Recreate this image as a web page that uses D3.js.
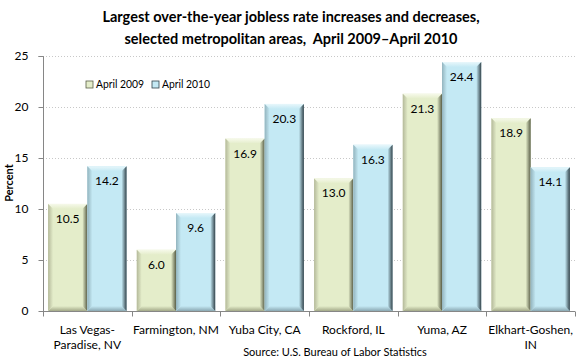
<!DOCTYPE html>
<html><head><meta charset="utf-8">
<script src="https://cdn.jsdelivr.net/npm/d3@7"></script>
<style>body{margin:0;background:#fff}svg{display:block}text{font-family:Lato,"Open Sans",sans-serif}</style>
</head><body>
<svg id="c" width="580" height="360"></svg>
<script>
const categories = [["Las Vegas-","Paradise, NV"],["Farmington, NM"],["Yuba City, CA"],["Rockford, IL"],["Yuma, AZ"],["Elkhart-Goshen,","IN"]];
const series = ["April 2009","April 2010"];
const apr2009 = [10.5, 6.0, 16.9, 13.0, 21.3, 18.9];
const apr2010 = [14.2, 9.6, 20.3, 16.3, 24.4, 14.1];
const yTicks = [0,5,10,15,20,25];

const svg = d3.select("#c");
const m={l:43,r:5,t:56,b:49};
const x = d3.scaleBand().domain(d3.range(categories.length)).range([m.l,575]).paddingInner(0).paddingOuter(0);
const x1 = d3.scaleBand().domain(series).range([0,x.bandwidth()]).paddingOuter(0.13).paddingInner(0);
const y = d3.scaleLinear().domain([0,25]).range([311,56]);

const pal = {
 "April 2009": {fill:"#e4edca", top:"#f6f9ea", left:"#b4b99a", right:"#5a5f48", bottom:"#a3a988"},
 "April 2010": {fill:"#c4e9f4", top:"#e8f7fb", left:"#93b4be", right:"#33434a", bottom:"#8aa8b2"}
};
const defs = svg.append("defs");
function grad(id,x1_,y1_,x2_,y2_,c1,c2){
  const g=defs.append("linearGradient").attr("id",id).attr("x1",x1_).attr("y1",y1_).attr("x2",x2_).attr("y2",y2_);
  g.append("stop").attr("offset","0").attr("stop-color",c1);
  g.append("stop").attr("offset","1").attr("stop-color",c2);
}
series.forEach((s,i)=>{
  const p=pal[s];
  grad("gl"+i,0,0,1,0,p.left,p.fill);
  grad("gr"+i,0,0,1,0,p.fill,p.right);
  grad("gt"+i,0,0,0,1,p.top,p.fill);
  grad("gb"+i,0,0,0,1,p.fill,p.bottom);
});

// gridlines
svg.append("g").selectAll("line").data(yTicks.filter(d=>d>0)).join("line")
  .attr("x1",m.l).attr("x2",575).attr("y1",d=>y(d)+0.5).attr("y2",d=>y(d)+0.5)
  .attr("stroke","#c8c8c8").attr("stroke-width",1).attr("stroke-dasharray","1,2");

// bars
const data=[];
categories.forEach((c,i)=>{ data.push({i,s:series[0],si:0,v:apr2009[i]}); data.push({i,s:series[1],si:1,v:apr2010[i]}); });
const bv=5;
const bars = svg.append("g").selectAll("g").data(data).join("g");
bars.each(function(d){
  const g=d3.select(this);
  const x0=x(d.i)+x1(d.s), w=x1.bandwidth(), y0=y(d.v), y1b=y(0), p=pal[d.s];
  const xR=x0+w;
  g.append("rect").attr("x",x0).attr("y",y0).attr("width",w).attr("height",y1b-y0).attr("fill",p.fill);
  const pts=a=>a.map(q=>q.join(",")).join(" ");
  g.append("polygon").attr("points",pts([[x0,y0],[xR,y0],[xR-bv,y0+bv],[x0+bv,y0+bv]])).attr("fill",`url(#gt${d.si})`);
  g.append("polygon").attr("points",pts([[x0,y1b],[xR,y1b],[xR-bv,y1b-bv],[x0+bv,y1b-bv]])).attr("fill",`url(#gb${d.si})`);
  g.append("polygon").attr("points",pts([[x0,y0],[x0+bv,y0+bv],[x0+bv,y1b-bv],[x0,y1b]])).attr("fill",`url(#gl${d.si})`);
  g.append("polygon").attr("points",pts([[xR,y0],[xR-bv,y0+bv],[xR-bv,y1b-bv],[xR,y1b]])).attr("fill",`url(#gr${d.si})`);
  g.append("text").attr("x",x0+w/2).attr("y",y0+19).attr("text-anchor","middle")
    .attr("font-size",12).attr("fill","#000").text(d.v.toFixed(1));
});

// y axis
const ya = svg.append("g").attr("transform",`translate(${m.l+0.5},0)`)
  .call(d3.axisLeft(y).tickValues(yTicks).tickSize(5).tickPadding(10).tickFormat(d3.format("d")));
ya.select(".domain").attr("stroke","#868686").attr("d",`M-5,${y(25)+0.5}H0V${y(0)+0.5}`);
ya.selectAll(".tick line").attr("stroke","#868686");
ya.selectAll(".tick text").attr("font-size",12).attr("fill","#000").style("font-family","Lato");

// x axis
const xa = svg.append("g").attr("transform",`translate(0,${y(0)+0.5})`);
xa.append("line").attr("x1",m.l).attr("x2",575).attr("stroke","#868686");
xa.selectAll("line.t").data(d3.range(categories.length+1)).join("line").attr("class","t")
  .attr("x1",d=>Math.round(m.l+d*x.bandwidth())+0.5).attr("x2",d=>Math.round(m.l+d*x.bandwidth())+0.5)
  .attr("y1",0).attr("y2",5).attr("stroke","#868686");
xa.selectAll("text").data(categories).join("text")
  .attr("text-anchor","middle").attr("font-size",12).attr("fill","#000")
  .each(function(c,i){
    const t=d3.select(this);
    c.forEach((ln,k)=>t.append("tspan").attr("x",x(i)+x.bandwidth()/2).attr("y",22+k*15).text(ln));
  });

// y label
svg.append("text").attr("transform","translate(13,183) rotate(-90)").attr("text-anchor","middle")
  .attr("font-size",11).attr("font-weight","bold").text("Percent");

// title
const title=["Largest over-the-year jobless rate increases and decreases,","selected metropolitan areas,  April 2009\u2013April 2010"];
svg.append("text").attr("text-anchor","middle").attr("font-size",14.5).attr("font-weight","bold")
  .selectAll("tspan").data(title).join("tspan").attr("x",291).attr("y",(d,i)=>22+i*22).style("white-space","pre").text(d=>d);

// legend
const lg=svg.append("g");
const lx=[86,152];
series.forEach((s,i)=>{
  const p=pal[s];
  lg.append("rect").attr("x",lx[i]).attr("y",81).attr("width",7).attr("height",7).attr("fill",p.fill).attr("stroke",p.right).attr("stroke-width",0.8);
  lg.append("text").attr("x",lx[i]+10).attr("y",88).attr("font-size",11).attr("textLength",48).attr("lengthAdjust","spacingAndGlyphs").text(s);
});

// source
svg.append("text").attr("x",335).attr("y",356).attr("text-anchor","middle").attr("font-size",11).text("Source: U.S. Bureau of Labor Statistics");
</script>
</body></html>
